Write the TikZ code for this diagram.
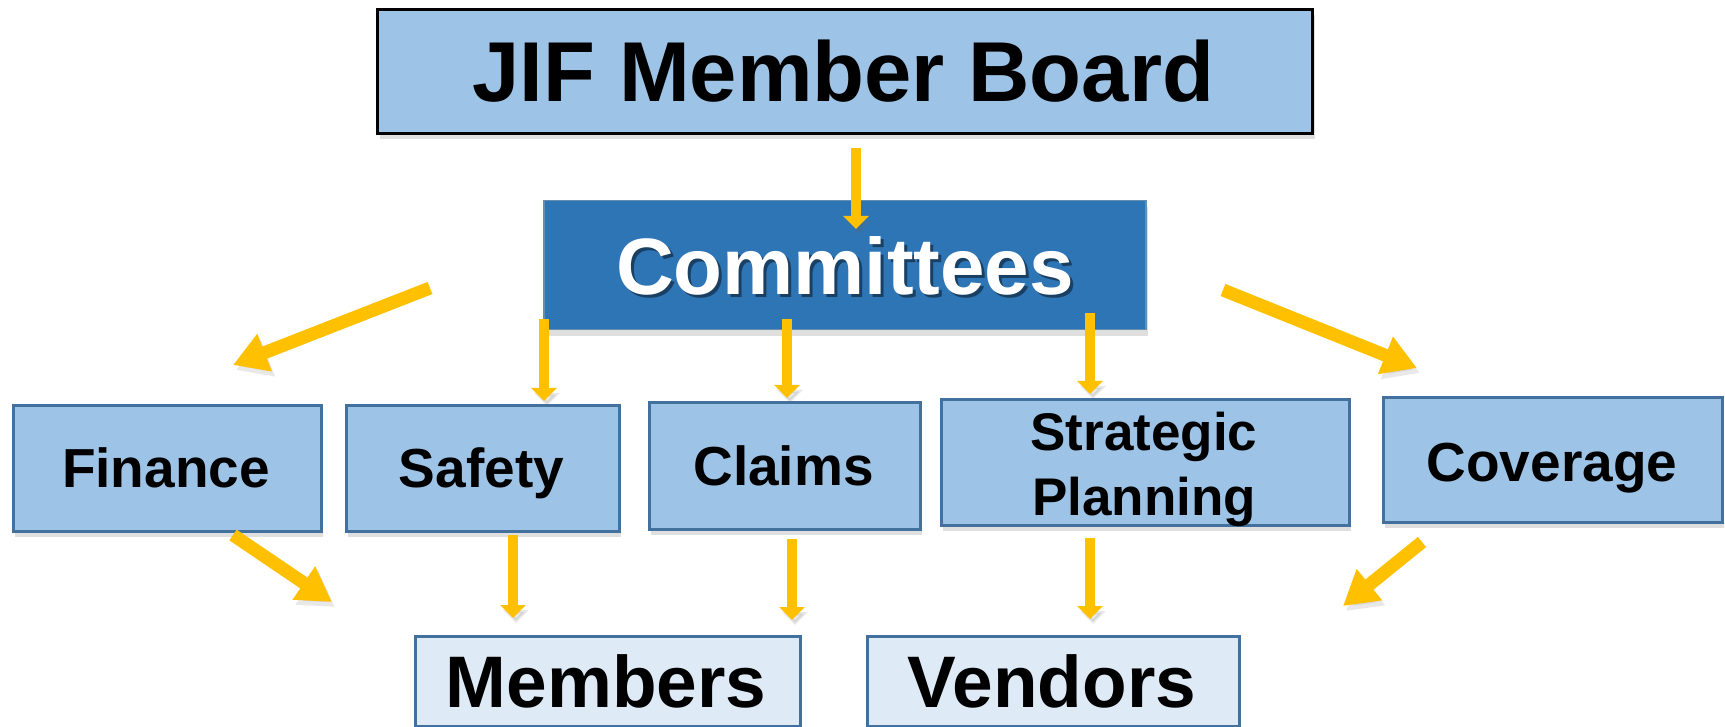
\documentclass[tikz,border=0pt]{standalone}
\usepackage{fontspec}
\setmainfont{Liberation Sans}
\usetikzlibrary{arrows.meta,shadows}
\definecolor{boxblue}{HTML}{9DC3E6}
\definecolor{edgeblue}{HTML}{41719C}
\definecolor{darkblue}{HTML}{2E75B6}
\definecolor{paleblue}{HTML}{DEEBF7}
\definecolor{gold}{HTML}{FFC000}
\tikzset{
  boxbase/.style={rectangle, inner sep=0pt, anchor=north west,
    drop shadow={shadow xshift=2pt, shadow yshift=-6pt, opacity=0.25}},
  midbox/.style={boxbase, draw=edgeblue, line width=2.5pt, fill=boxblue},
  topbox/.style={boxbase, draw=black, line width=3pt, fill=boxblue},
  combox/.style={boxbase, draw=edgeblue!80, line width=1.5pt, fill=darkblue},
  lowbox/.style={boxbase, draw=edgeblue, line width=2.5pt, fill=paleblue},
  lbl/.style={anchor=base, inner sep=0pt, font=\bfseries\fontsize{55}{60}\selectfont},
  arrowshadow/.style={preaction={draw=black!60, fill=none, opacity=0.15, transform canvas={shift={(3pt,-5pt)}}}},
  bigarrow/.style={arrowshadow, draw=gold, line width=13pt, -{Triangle[length=34pt,width=38pt]}},
  thinarrow/.style={arrowshadow, draw=gold, line width=10pt, -{Triangle[length=13pt,width=25pt]}}
}
\begin{document}
\begin{tikzpicture}[x=1pt,y=-1pt]
\useasboundingbox (0,0) rectangle (1725,727);
% boxes
\node[topbox, minimum width=935pt, minimum height=124pt] (board) at (376,8) {};
\node[combox, minimum width=602pt, minimum height=129pt] (comm) at (543,200) {};
\node[midbox, minimum width=308pt, minimum height=126pt] (fin) at (12,404) {};
\node[midbox, minimum width=273pt, minimum height=126pt] (saf) at (345,404) {};
\node[midbox, minimum width=271pt, minimum height=127pt] (cla) at (648,401) {};
\node[midbox, minimum width=408pt, minimum height=126pt] (str) at (940,398) {};
\node[midbox, minimum width=339pt, minimum height=125pt] (cov) at (1382,396) {};
\node[lowbox, minimum width=385pt, minimum height=90pt] (mem) at (414,635) {};
\node[lowbox, minimum width=372pt, minimum height=90pt] (ven) at (866,635) {};
% texts
\node[lbl, font=\bfseries\fontsize{85}{90}\selectfont] (boardt) at (843.5,102) {JIF Member Board};
\node[lbl, font=\bfseries\fontsize{80}{86}\selectfont, text=black, opacity=0.45] (commsh) at (848,298) {Committees};
\node[lbl, font=\bfseries\fontsize{80}{86}\selectfont, text=white] (commt) at (845,295) {Committees};
\node[lbl] (fint) at (166,487) {Finance};
\node[lbl] (saft) at (481.5,487) {Safety};
\node[lbl] (clat) at (783.5,485) {Claims};
\node[lbl, font=\bfseries\fontsize{53}{58}\selectfont] (strt1) at (1144,450) {Strategic};
\node[lbl, font=\bfseries\fontsize{53}{58}\selectfont] (strt2) at (1144,515) {Planning};
\node[lbl] (covt) at (1552,481) {Coverage};
\node[lbl, font=\bfseries\fontsize{73}{78}\selectfont] (memt) at (606,707) {Members};
\node[lbl, font=\bfseries\fontsize{73}{78}\selectfont] (vent) at (1052,707) {Vendors};
% arrow end points
\coordinate (b0) at (856,148);  \coordinate (e0) at (856,229);
\coordinate (b1) at (430,288);  \coordinate (e1) at (233,365);
\coordinate (b2) at (544,319);  \coordinate (e2) at (544,401);
\coordinate (b3) at (787,319);  \coordinate (e3) at (787,398);
\coordinate (b4) at (1090,313); \coordinate (e4) at (1090,394);
\coordinate (b5) at (1223,290); \coordinate (e5) at (1417,368);
\coordinate (b6) at (233,535);  \coordinate (e6) at (332,602);
\coordinate (b7) at (513,535);  \coordinate (e7) at (513,618);
\coordinate (b8) at (792,539);  \coordinate (e8) at (792,620);
\coordinate (b9) at (1090,538); \coordinate (e9) at (1090,619);
\coordinate (b10) at (1422,542); \coordinate (e10) at (1343,606);
% arrows
\draw[thinarrow] (b0) -- (e0);
\draw[bigarrow] (b1) -- (e1);
\draw[thinarrow] (b2) -- (e2);
\draw[thinarrow] (b3) -- (e3);
\draw[thinarrow] (b4) -- (e4);
\draw[bigarrow] (b5) -- (e5);
\draw[bigarrow] (b6) -- (e6);
\draw[thinarrow] (b7) -- (e7);
\draw[thinarrow] (b8) -- (e8);
\draw[thinarrow] (b9) -- (e9);
\draw[bigarrow] (b10) -- (e10);
\end{tikzpicture}
\end{document}
